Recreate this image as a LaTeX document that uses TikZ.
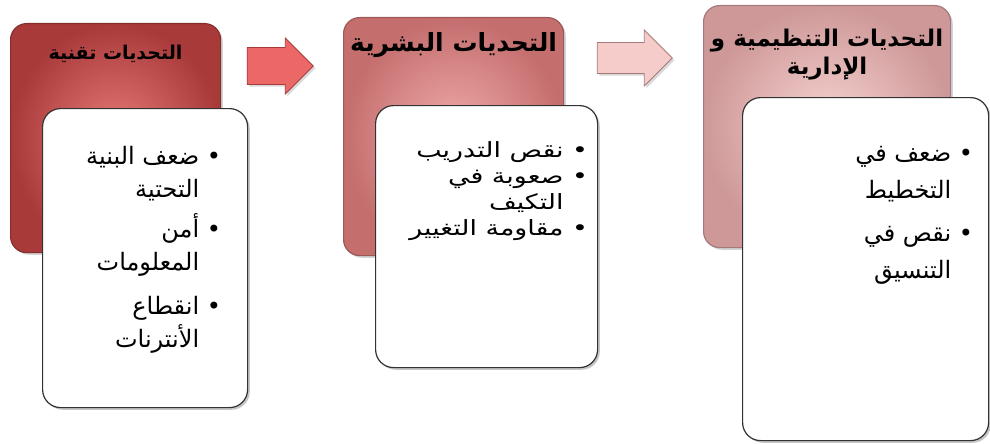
\documentclass[tikz,border=0pt]{standalone}
\usepackage{fontspec}
\newfontfamily\arabicfont[Script=Arabic]{DejaVu Sans}
\newfontfamily\arabicwide[Script=Arabic,FakeStretch=1.28]{DejaVu Sans}
\TeXXeTstate=1
\usetikzlibrary{positioning,shapes.arrows,shadows}

\definecolor{redout}{RGB}{168,58,58}
\definecolor{redin}{RGB}{232,122,120}
\definecolor{rosout}{RGB}{196,110,110}
\definecolor{rosin}{RGB}{240,172,170}
\definecolor{pinkout}{RGB}{206,152,152}
\definecolor{pinkin}{RGB}{247,212,210}

\newcommand\ar[1]{\beginR #1\endR}
\newcommand\bul[1]{\beginR•\ #1\endR}
\newcommand\cont[1]{\beginR\phantom{•\ }#1\endR}

\begin{document}
\begin{tikzpicture}[x=1pt,y=-1pt]
        \tikzstyle{panel}=[rectangle, anchor=north west, rounded corners=16pt, line width=1.2pt, drop shadow={opacity=0.35}]
        \tikzstyle{card}=[rectangle, anchor=north west, rounded corners=18pt, fill=white, draw=black!80, line width=1.2pt, drop shadow={opacity=0.45}]
        \tikzstyle{arrowbox}=[single arrow, inner xsep=0pt, line width=0.8pt, drop shadow={opacity=0.3}]
        \tikzstyle{head}=[align=center, inner sep=0pt]
        \tikzstyle{items}=[anchor=north east, align=right, inner sep=0pt]
        \useasboundingbox (0,0) rectangle (990,444);
        % panels
        \node[panel, draw=redout!80!black, inner color=redin, outer color=redout, minimum width=210pt, minimum height=229pt] (c1) at (10,23) {};
        \node[panel, draw=rosout!80!black, inner color=rosin, outer color=rosout, minimum width=220pt, minimum height=238pt] (c2) at (343,17) {};
        \node[panel, draw=pinkout!80!black, inner color=pinkin, outer color=pinkout, minimum width=247pt, minimum height=242pt] (c3) at (703,5) {};
        \node[head, below=22pt of c1.north, font=\arabicfont\bfseries\fontsize{19}{27}\selectfont] (h1) {\ar{التحديات تقنية}};
        \node[head, below=15pt of c2.north, font=\arabicfont\bfseries\fontsize{25}{30}\selectfont] (h2) {\ar{التحديات البشرية}};
        \node[head, below=24pt of c3.north, font=\arabicfont\bfseries\fontsize{23}{28}\selectfont] (h3) {\ar{التحديات التنظيمية و}\\ \ar{الإدارية}};
        % arrows
        \node[arrowbox, fill=redin!85!red, draw=redout, minimum height=66pt, inner ysep=18pt, single arrow head extend=9.5pt] (a1) at (271,66) {};
        \node[arrowbox, fill=pinkin!80!rosin, draw=pinkout!80!black, minimum height=75pt, inner ysep=15pt, single arrow head extend=12.5pt] (a2) at (627,58) {};
        % cards
        \node[card, minimum width=205pt, minimum height=299pt] (w1) at (42,108) {};
        \node[card, minimum width=222pt, minimum height=262pt] (w2) at (375,105) {};
        \node[card, minimum width=246pt, minimum height=343pt] (w3) at (742,97) {};
        \node[items, font=\arabicfont\fontsize{24}{33}\selectfont] (t1) at ([xshift=-27pt, yshift=-38pt]w1.north east) {\bul{ضعف البنية}\\ \cont{التحتية}\\[7pt] \bul{أمن}\\ \cont{المعلومات}\\[11pt] \bul{انقطاع}\\ \cont{الأنترنات}};
        \node[items, font=\arabicwide\fontsize{21}{26}\selectfont] (t2) at ([xshift=-10pt, yshift=-36pt]w2.north east) {\bul{نقص التدريب}\\ \bul{صعوبة في}\\ \cont{التكيف}\\ \bul{مقاومة التغيير}};
        \node[items, font=\arabicfont\fontsize{24}{37}\selectfont] (t3) at ([xshift=-16pt, yshift=-49pt]w3.north east) {\bul{ضعف في}\\ \cont{التخطيط}\\[6pt] \bul{نقص في}\\ \cont{التنسيق}};
    \end{tikzpicture}
\end{document}
